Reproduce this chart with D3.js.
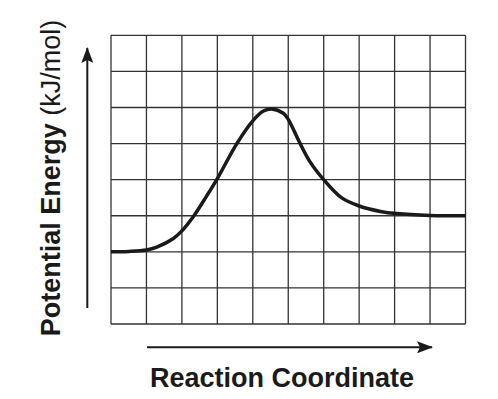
<!DOCTYPE html>
<html>
<head>
<meta charset="utf-8">
<script src="https://cdn.jsdelivr.net/npm/d3@7"></script>
<style>
  body { margin: 0; background: #fff; }
  text { font-family: "Liberation Sans", Arial, sans-serif; fill: #1a1a1a; }
</style>
</head>
<body>
<svg id="chart"></svg>
<script>
"use strict";
// grid extent in cell units
var gridCols = 10;
var gridRows = 8;
// energy profile (grid units)
var reactionX = [0, 0.5, 1, 1.29, 1.76, 2, 2.34, 2.7, 3, 3.55, 4, 4.3, 4.53, 4.86, 5, 5.31, 5.61, 6, 6.5, 7, 7.6, 8.06, 9, 10];
var energyY = [2, 2.01, 2.05, 2.13, 2.37, 2.58, 3, 3.55, 4.03, 5, 5.63, 5.9, 5.96, 5.84, 5.67, 5.05, 4.5, 4, 3.5, 3.27, 3.12, 3.06, 3.01, 3];
var xTitle = "Reaction Coordinate";
var yTitleBold = "Potential Energy";
var yTitleUnit = " (kJ/mol)";

var svgWidth = 498, svgHeight = 399;
var margin = { top: 35.3, right: 32.5, bottom: 75, left: 111 };

var svg = d3.select("#chart")
    .attr("width", svgWidth)
    .attr("height", svgHeight);

var x = d3.scaleLinear().domain([0, gridCols]).range([margin.left, svgWidth - margin.right]);
var y = d3.scaleLinear().domain([0, gridRows]).range([svgHeight - margin.bottom, margin.top]);

var defs = svg.append("defs");
defs.append("marker")
    .attr("id", "head")
    .attr("viewBox", "0 0 16 12")
    .attr("refX", 15)
    .attr("refY", 6)
    .attr("markerUnits", "userSpaceOnUse")
    .attr("markerWidth", 16)
    .attr("markerHeight", 12)
    .attr("orient", "auto")
  .append("path")
    .attr("d", "M0,0L16,6L0,12L3,6Z")
    .style("fill", "#1a1a1a");

// grid
var grid = svg.append("g").classed("grid", true);
grid.selectAll(".vline")
    .data(d3.range(0, gridCols + 1))
    .enter().append("line")
    .attr("x1", function (d) { return x(d); })
    .attr("x2", function (d) { return x(d); })
    .attr("y1", y(0))
    .attr("y2", y(gridRows))
    .style("stroke", "#333")
    .style("stroke-width", 1.3);
grid.selectAll(".hline")
    .data(d3.range(0, gridRows + 1))
    .enter().append("line")
    .attr("y1", function (d) { return y(d); })
    .attr("y2", function (d) { return y(d); })
    .attr("x1", x(0))
    .attr("x2", x(gridCols))
    .style("stroke", "#333")
    .style("stroke-width", 1.3);

// curve
var line = d3.line()
    .x(function (d) { return x(d[0]); })
    .y(function (d) { return y(d[1]); })
    .curve(d3.curveCatmullRom.alpha(0.5));
svg.append("path")
    .datum(d3.zip(reactionX, energyY))
    .attr("d", line)
    .style("fill", "none")
    .style("stroke", "#1a1a1a")
    .style("stroke-width", 3.5)
    .style("stroke-linecap", "butt");

// axis arrows
svg.append("line")
    .attr("x1", 147).attr("y1", 347.3)
    .attr("x2", 432).attr("y2", 347.3)
    .style("stroke", "#1a1a1a")
    .style("stroke-width", 2)
    .attr("marker-end", "url(#head)");
svg.append("line")
    .attr("x1", 87.3).attr("y1", 308)
    .attr("x2", 87.3).attr("y2", 48)
    .style("stroke", "#1a1a1a")
    .style("stroke-width", 2)
    .attr("marker-end", "url(#head)");

// titles
svg.append("text")
    .attr("transform", "translate(" + [282, 387] + ")")
    .attr("text-anchor", "middle")
    .style("font-size", "27px")
    .style("font-weight", "bold")
    .text(xTitle);

var yLabel = svg.append("text")
    .attr("transform", "translate(" + [59.5, 178] + ") rotate(-90)")
    .attr("text-anchor", "middle")
    .style("font-size", "27px");
yLabel.append("tspan").style("font-weight", "bold").text(yTitleBold);
yLabel.append("tspan").text(yTitleUnit);
</script>
</body>
</html>
